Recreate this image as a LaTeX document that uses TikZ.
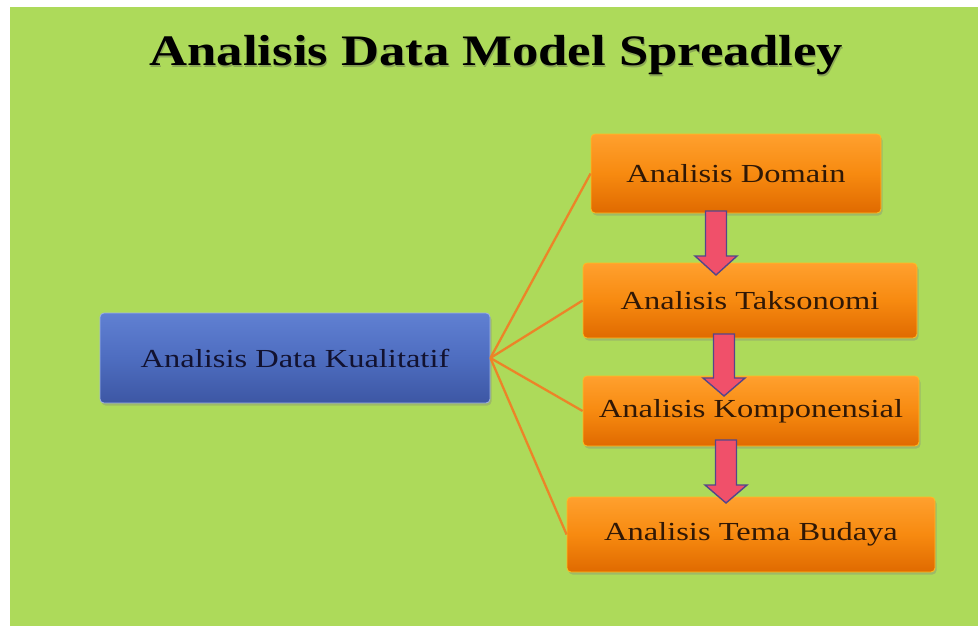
\documentclass[tikz,border=0pt]{standalone}
\usepackage{fontspec}
\setmainfont{Liberation Serif}
\newfontfamily\titlefont{Liberation Serif}[FakeStretch=1.21]
\newfontfamily\boxfont{Liberation Serif}[FakeStretch=1.25]
\usetikzlibrary{shadows}

\definecolor{slidegreen}{HTML}{ADDA5A}
\definecolor{orangetop}{HTML}{FFA02E}
\definecolor{orangemid}{HTML}{F78A10}
\definecolor{orangebot}{HTML}{E06A00}
\definecolor{bluetop}{HTML}{6080D2}
\definecolor{bluemid}{HTML}{4E6DC0}
\definecolor{bluebot}{HTML}{3D57A4}
\definecolor{linkorange}{HTML}{EC8428}
\definecolor{arrowpink}{HTML}{F0506A}
\definecolor{arrowedge}{HTML}{54468A}
\definecolor{boxtext}{HTML}{301806}
\definecolor{bluetext}{HTML}{121230}

\tikzset{
  basebox/.style={rounded corners=4pt, inner sep=0pt, font=\boxfont\fontsize{26}{30}\selectfont,
    drop shadow={opacity=0.35, shadow xshift=1.5pt, shadow yshift=-2.5pt}},
  orangebox/.style={basebox, top color=orangetop, bottom color=orangebot, middle color=orangemid,
    draw=orangetop!70!yellow, line width=0.8pt, text=boxtext},
  bluebox/.style={basebox, top color=bluetop, bottom color=bluebot, middle color=bluemid,
    draw=bluetop!60!white, line width=0.8pt, text=bluetext},
  link/.style={draw=linkorange, line width=2.3pt},
  stepdown/.style={fill=arrowpink, draw=arrowedge, line width=1.4pt, line join=miter},
  titletext/.style={font=\titlefont\bfseries\fontsize{43.5}{48}\selectfont}
}

% block arrow pointing down: x, shaft top, head start, tip
\newcommand\downblock[4]{%
  \path[stepdown] (#1-10.5,#2) -- (#1+10.5,#2) -- (#1+10.5,#3) -- (#1+21,#3)
    -- (#1,#4) -- (#1-21,#3) -- (#1-10.5,#3) -- cycle;}

\begin{document}
\begin{tikzpicture}[x=1pt, y=-1pt]
  \useasboundingbox (0,0) rectangle (978,626);
  \fill[white] (0,0) rectangle (978,626);
  \fill[slidegreen] (10,7) rectangle (978,626);

  % title with soft shadow
  \node[titletext, text=black!70, opacity=0.35] (titleshadow) at (497.5,57.5)
    {Analisis Data Model Spreadley};
  \node[titletext, text=black] (title) at (496.5,55)
    {Analisis Data Model Spreadley};

  % boxes
  \node[bluebox, minimum width=390pt, minimum height=90pt] (kual) at (295,358)
    {Analisis Data Kualitatif};
  \node[orangebox, minimum width=290pt, minimum height=79pt] (dom) at (736,173.5)
    {Analisis Domain};
  \node[orangebox, minimum width=334pt, minimum height=75pt] (tak) at (750,300.5)
    {Analisis Taksonomi};
  \node[orangebox, minimum width=336pt, minimum height=70pt] (kom) at (751,411)
    {Analisis Komponensial};
  \node[orangebox, minimum width=368pt, minimum height=75pt] (tema) at (751,534.5)
    {Analisis Tema Budaya};

  % links from the main box
  \draw[link] (kual.east) -- (dom.west);
  \draw[link] (kual.east) -- (tak.west);
  \draw[link] (kual.east) -- (kom.west);
  \draw[link] (kual.east) -- (tema.west);

  % sequence arrows
  \downblock{716}{211}{256}{275}
  \downblock{724}{334}{378}{396}
  \downblock{726}{440}{485}{503}
\end{tikzpicture}
\end{document}
